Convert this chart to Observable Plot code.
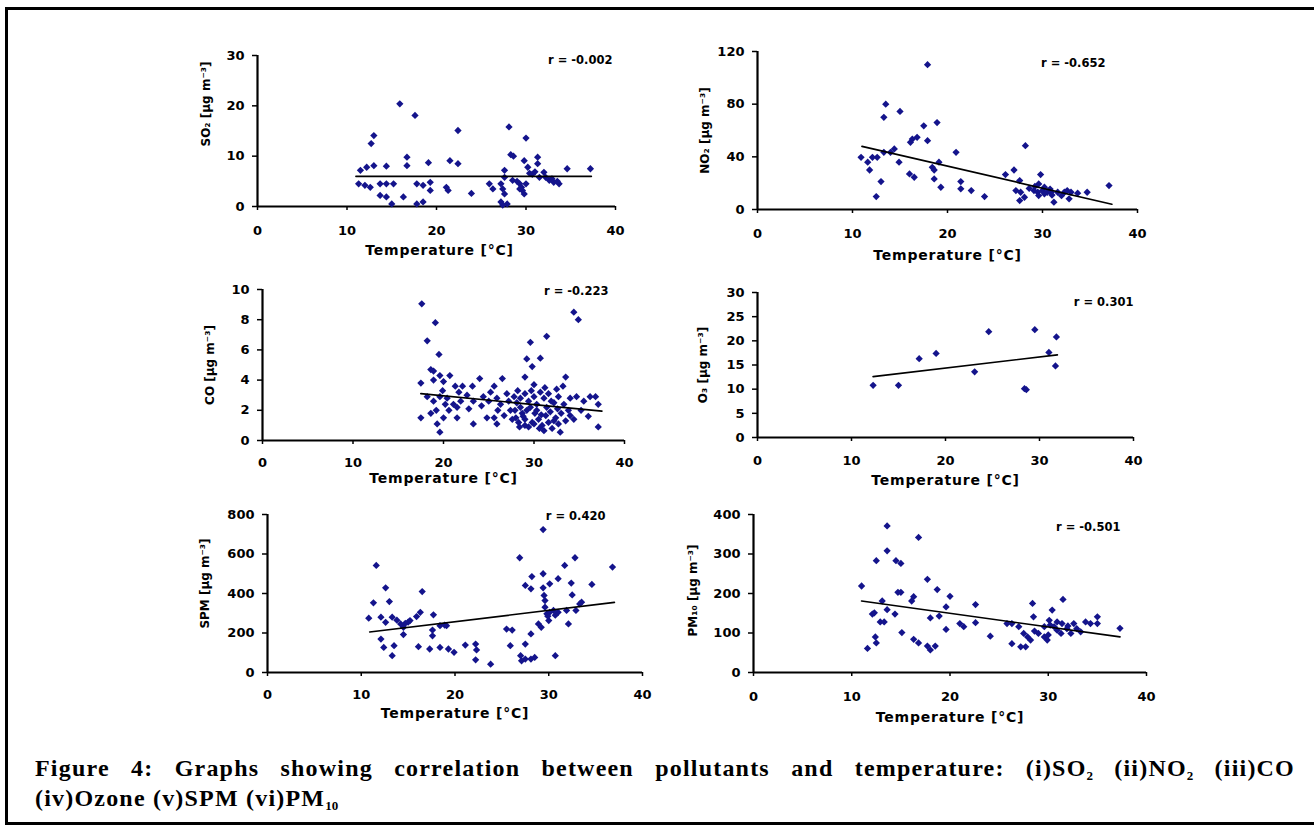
<!DOCTYPE html>
<html>
<head>
<meta charset="utf-8">
<script src="https://cdn.jsdelivr.net/npm/d3@7"></script>
<script src="https://cdn.jsdelivr.net/npm/@observablehq/plot@0.6"></script>
<style>
html,body{margin:0;padding:0;background:#fff;}
body{width:1314px;height:828px;overflow:hidden;position:relative;}
#frame{position:absolute;left:5px;top:7px;width:1340px;height:818px;border:3px solid #000;box-sizing:border-box;}
.panel{position:absolute;}
.cap{position:absolute;left:35px;width:1260px;font-family:"Liberation Serif","Times New Roman",serif;font-weight:bold;font-size:24px;letter-spacing:1.2px;line-height:30px;color:#000;white-space:nowrap;}
#cap1{top:753px;text-align:justify;text-align-last:justify;}
#cap2{top:783px;}
.cap sub{font-size:13px;vertical-align:-4px;line-height:0;letter-spacing:0;}
</style>
</head>
<body>
<div id="frame"></div>
<div id="panels"></div>
<div class="cap" id="cap1">Figure 4: Graphs showing correlation between pollutants and temperature: (i)SO<sub>2</sub> (ii)NO<sub>2</sub> (iii)CO</div>
<div class="cap" id="cap2">(iv)Ozone (v)SPM (vi)PM<sub>10</sub></div>
<script>
// ---------- data ----------
const xTitle = "Temperature [°C]";
const xTicks = [0, 10, 20, 30, 40];
const yLabels = ["SO₂ [µg m⁻³]", "NO₂ [µg m⁻³]", "CO [µg m⁻³]", "O₃ [µg m⁻³]", "SPM [µg m⁻³]", "PM₁₀ [µg m⁻³]"];
const rLabels = ["r = -0.002", "r = -0.652", "r = -0.223", "r = 0.301", "r = 0.420", "r = -0.501"];
const yTicksSO2 = [0, 10, 20, 30];
const yTicksNO2 = [0, 40, 80, 120];
const yTicksCO = [0, 2, 4, 6, 8, 10];
const yTicksO3 = [0, 5, 10, 15, 20, 25, 30];
const yTicksSPM = [0, 200, 400, 600, 800];
const yTicksPM10 = [0, 100, 200, 300, 400];

const so2Points = [[15.9,20.4],[17.6,18.1],[13.0,14.1],[12.7,12.5],[22.4,15.1],[28.1,15.8],[30.0,13.6],[28.3,10.3],[28.6,10.0],[16.7,9.8],[16.7,8.1],[19.1,8.7],[21.5,9.1],[22.4,8.5],[14.4,8.0],[11.5,7.2],[12.2,7.8],[13.0,8.1],[29.8,9.1],[31.3,9.8],[31.3,8.5],[30.2,7.8],[30.4,6.6],[30.7,6.4],[27.6,7.2],[27.6,5.8],[34.6,7.5],[37.2,7.5],[11.3,4.5],[12.0,4.2],[12.6,3.8],[13.7,4.5],[14.4,4.5],[15.2,4.5],[17.8,4.5],[18.5,4.2],[19.3,4.8],[19.3,3.2],[21.1,3.8],[21.3,3.2],[13.7,2.2],[14.4,1.9],[16.3,1.9],[15.0,0.5],[17.8,0.5],[18.5,0.9],[23.9,2.6],[25.9,4.5],[26.3,3.5],[27.2,4.5],[27.4,3.5],[27.6,2.5],[27.2,0.9],[27.9,0.5],[27.4,0.3],[29.3,4.5],[29.5,3.8],[29.6,3.2],[29.8,2.5],[29.3,3.5],[30.0,4.5],[32.2,5.8],[32.6,5.2],[33.1,4.8],[33.7,4.5],[32.9,5.5],[31.5,5.8],[28.5,5.2],[32.0,6.8],[31.0,6.9],[29.0,5.0],[33.5,5.0]];
const so2Trend = [[11.0,6.0],[37.3,6.0]];

const no2Points = [[17.9,110],[13.5,80],[13.3,70],[15.0,74.5],[18.9,66],[17.5,63.6],[16.8,54.8],[16.3,53.5],[16.1,51],[17.9,52.3],[28.2,48.5],[20.9,43.4],[14.4,46],[14.0,43.4],[13.3,43.4],[12.6,39.6],[12.1,39.6],[10.9,39.6],[11.6,35.9],[11.8,30],[14.9,35.9],[19.1,35.9],[18.4,32],[18.6,30],[16.0,27],[16.5,24.5],[18.6,23.2],[13.0,21.2],[12.5,9.8],[19.3,16.9],[21.4,21.2],[21.4,15.7],[22.5,14.4],[23.9,9.8],[26.1,26.5],[27.0,30],[27.6,22],[27.2,14.4],[27.7,13.1],[27.6,6.8],[28.1,9.3],[29.8,26.5],[29.6,19.4],[29.1,14.4],[29.5,13.1],[30.0,14.4],[30.2,11.9],[30.5,13.1],[30.9,13.1],[31.2,5.6],[31.6,13.1],[32.3,13.1],[32.6,14.4],[33.0,13.1],[32.8,8.1],[33.7,12.4],[34.7,13.1],[30.2,16.9],[29.6,10.6],[37.0,18.2],[31.0,11],[32.0,10.5],[29.2,17.5],[28.6,16],[30.8,15.5]];
const no2Trend = [[11.0,48],[37.3,4]];

const coPoints = [[17.6,9.05],[34.4,8.5],[34.9,8.0],[19.1,7.8],[18.2,6.6],[31.4,6.9],[29.6,6.5],[19.5,5.7],[29.2,5.4],[30.7,5.45],[29.8,4.9],[18.6,4.7],[18.9,4.6],[19.6,4.3],[20.7,4.3],[24.0,4.1],[26.5,4.1],[29.0,4.2],[33.5,4.2],[17.5,3.8],[18.9,4.0],[20.0,3.9],[21.3,3.6],[22.1,3.6],[23.2,3.6],[25.6,3.6],[30.0,3.7],[33.2,3.6],[18.2,2.9],[18.9,2.6],[19.6,2.9],[20.4,2.8],[21.1,2.4],[21.5,2.2],[21.9,2.6],[22.6,3.0],[23.3,2.6],[24.4,2.9],[25.2,3.2],[25.9,2.8],[26.3,2.4],[27.0,3.1],[27.8,2.9],[28.1,2.5],[28.5,2.8],[29.0,3.1],[29.4,2.6],[30.0,2.9],[30.3,2.4],[30.7,3.2],[31.1,2.8],[31.6,3.1],[32.2,2.5],[32.7,2.9],[33.3,2.4],[34.0,2.8],[34.7,2.9],[35.5,2.6],[36.2,2.9],[36.8,2.9],[37.1,2.4],[17.5,1.5],[18.6,1.8],[19.3,1.1],[19.6,0.55],[20.0,1.5],[20.6,2.0],[21.5,1.5],[23.3,1.1],[24.8,1.5],[25.6,1.5],[25.9,1.1],[26.7,1.65],[27.4,2.0],[28.0,1.5],[28.3,1.2],[28.7,1.8],[29.0,1.4],[29.4,0.9],[29.8,1.2],[30.1,1.8],[30.5,1.4],[30.9,1.0],[31.3,1.65],[31.6,1.2],[32.0,0.8],[32.4,1.5],[32.7,1.1],[32.9,0.55],[33.5,1.3],[34.0,1.65],[34.4,1.4],[37.1,0.9],[28.5,2.2],[29.6,2.2],[31.4,2.2],[32.6,2.1],[27.9,2.0],[30.0,1.1],[31.1,0.65],[29.0,1.0],[27.6,1.4],[28.8,1.6],[29.2,2.0],[30.3,2.0],[30.8,1.7],[31.8,1.9],[32.2,1.3],[28.4,0.9],[30.6,0.8],[31.9,2.6],[29.7,3.3],[28.2,3.3],[26.0,2.0],[24.2,2.3],[22.8,2.1],[19.9,3.3],[21.7,3.2],[33.8,2.0],[35.2,2.0],[36.0,1.6],[19.2,2.0],[20.2,2.4],[25.0,2.6],[27.2,2.6],[31.2,3.5],[32.5,3.4],[33.0,1.8]];
const coTrend = [[17.5,3.1],[37.5,1.95]];

const o3Points = [[12.3,10.8],[15.0,10.8],[17.2,16.3],[19.0,17.4],[23.1,13.6],[24.6,21.9],[28.4,10.1],[28.6,9.9],[29.5,22.3],[31.0,17.6],[31.7,14.8],[31.8,20.8]];
const o3Trend = [[12.3,12.6],[31.9,17.1]];

const spmPoints = [[29.4,724],[11.6,542],[26.9,581],[32.8,581],[31.7,542],[36.8,534],[12.6,429],[16.5,410],[11.3,353],[13.0,359],[28.2,486],[29.4,500],[31.0,475],[30.1,449],[27.5,441],[28.1,424],[29.4,429],[29.5,390],[29.6,364],[32.4,453],[32.5,393],[34.6,446],[33.5,356],[10.8,275],[12.1,280],[13.3,280],[12.6,254],[14.2,246],[14.7,249],[14.5,229],[15.2,263],[15.9,283],[16.3,305],[17.7,292],[17.6,215],[17.6,186],[19.1,237],[18.4,237],[12.1,169],[14.5,192],[12.4,127],[13.5,136],[16.1,131],[17.3,119],[18.4,127],[19.3,119],[19.9,102],[21.1,139],[22.2,144],[22.3,114],[22.2,64],[23.8,42],[13.3,85],[25.5,220],[26.1,215],[25.9,136],[27.5,144],[28.1,195],[28.9,246],[29.2,229],[29.8,297],[30.1,305],[30.5,314],[31.0,305],[31.9,314],[32.9,314],[32.1,246],[30.0,263],[27.0,85],[27.5,68],[28.1,68],[28.5,76],[27.1,59],[30.7,85],[29.6,331],[33.3,347],[15.0,255],[18.9,240],[13.8,265],[29.9,285],[30.7,290]];
const spmTrend = [[10.9,205],[37.0,355]];

const pm10Points = [[13.6,371],[16.8,342],[13.6,308],[12.5,283],[14.5,283],[15.0,276],[17.7,236],[11.0,219],[18.7,210],[14.7,203],[15.0,203],[16.3,192],[16.1,181],[20.0,193],[13.1,181],[22.6,172],[13.6,159],[12.1,148],[12.3,151],[14.4,148],[31.5,185],[19.6,166],[28.4,175],[18.9,143],[18.0,138],[30.4,158],[12.9,128],[13.3,128],[21.0,124],[21.4,116],[22.6,126],[19.6,109],[15.1,101],[12.4,90],[12.5,75],[11.6,61],[16.3,84],[16.8,75],[17.7,67],[18.0,57],[18.5,67],[24.1,92],[25.8,124],[26.3,124],[26.3,73],[27.0,116],[27.5,99],[27.2,65],[27.7,65],[28.5,141],[27.9,90],[28.2,82],[29.0,99],[29.6,90],[29.9,82],[30.1,132],[30.2,120],[30.6,116],[30.9,107],[31.3,99],[31.4,124],[31.9,111],[32.3,99],[32.6,124],[32.9,111],[33.3,103],[33.8,128],[34.3,124],[35.0,141],[35.0,124],[29.6,116],[30.9,128],[37.3,112],[28.6,105],[30.0,95],[32.0,118]];
const pm10Trend = [[11.0,181],[37.3,90]];

// ---------- layout ----------
const panels = [
  {pts: so2Points,  trend: so2Trend,  yMax: 30,  yTicks: yTicksSO2,  k: 0, x0: 257, x40: 615,  y0: 206, yTop: 55,  lx: -51, ly: -27, rdx: -3,  rdy: 5,  tdx: 3, tdy: 44, tick: 24},
  {pts: no2Points,  trend: no2Trend,  yMax: 120, yTicks: yTicksNO2,  k: 1, x0: 757, x40: 1137, y0: 209, yTop: 51,  lx: -52, ly: 0,   rdx: -32, rdy: 12, tdx: 0, tdy: 46, tick: 24},
  {pts: coPoints,   trend: coTrend,   yMax: 10,  yTicks: yTicksCO,   k: 2, x0: 262, x40: 624,  y0: 440, yTop: 289, lx: -52, ly: 0,   rdx: -16, rdy: 2,  tdx: 0, tdy: 38, tick: 22},
  {pts: o3Points,   trend: o3Trend,   yMax: 30,  yTicks: yTicksO3,   k: 3, x0: 757, x40: 1133, y0: 437, yTop: 292, lx: -54, ly: 0,   rdx: 0,   rdy: 10, tdx: 0, tdy: 43, tick: 23},
  {pts: spmPoints,  trend: spmTrend,  yMax: 800, yTicks: yTicksSPM,  k: 4, x0: 267, x40: 642,  y0: 672, yTop: 514, lx: -62, ly: -10, rdx: -37, rdy: 2,  tdx: 0, tdy: 41, tick: 22},
  {pts: pm10Points, trend: pm10Trend, yMax: 400, yTicks: yTicksPM10, k: 5, x0: 753, x40: 1146, y0: 672, yTop: 514, lx: -60, ly: -3,  rdx: -26, rdy: 13, tdx: 0, tdy: 45, tick: 24}
];

const diamond = {
  draw(context, size) {
    const r = Math.sqrt(size / 2);
    context.moveTo(0, -r); context.lineTo(r, 0); context.lineTo(0, r); context.lineTo(-r, 0); context.closePath();
  }
};

const host = document.getElementById("panels");
const mL = 75, mR = 30, mT = 20, mB = 60;
for (const p of panels) {
  const w = p.x40 - p.x0, h = p.y0 - p.yTop;
  const data = p.pts.map(([x, y]) => ({x, y}));
  const trend = p.trend.map(([x, y]) => ({x, y}));
  const svg = Plot.plot({
    width: mL + w + mR, height: mT + h + mB,
    marginLeft: mL, marginRight: mR, marginTop: mT, marginBottom: mB,
    style: {fontFamily: "'DejaVu Sans', sans-serif", fontSize: "13px", fontWeight: "bold", color: "#000", background: "transparent", overflow: "visible"},
    x: {domain: [0, 40]},
    y: {domain: [0, p.yMax]},
    marks: [
      Plot.axisX({ticks: xTicks, tickSize: 4, tickPadding: p.tick - 9, tickFormat: d => String(d), label: null, strokeWidth: 1.5}),
      Plot.axisY({ticks: p.yTicks, tickSize: 5, tickPadding: 8, tickFormat: d => String(d), label: null, strokeWidth: 1.5}),
      Plot.ruleX([0], {stroke: "#000", strokeWidth: 2.2}),
      Plot.ruleY([0], {stroke: "#000", strokeWidth: 2.2}),
      Plot.dot(data, {x: "x", y: "y", symbol: diamond, r: 2.9, fill: "#14148c", stroke: "none"}),
      Plot.line(trend, {x: "x", y: "y", stroke: "#000", strokeWidth: 1.7}),
      Plot.text([rLabels[p.k]], {text: d => d, frameAnchor: "top-right", textAnchor: "end", lineAnchor: "middle", dx: p.rdx, dy: p.rdy, fontSize: 11.5, fontWeight: "bold", fill: "#000"}),
      Plot.text([xTitle], {text: d => d, frameAnchor: "bottom", textAnchor: "middle", lineAnchor: "middle", dx: p.tdx, dy: p.tdy, fontSize: 14, fontWeight: "bold", fill: "#000"}),
      Plot.text([yLabels[p.k]], {text: d => d, frameAnchor: "left", textAnchor: "middle", lineAnchor: "middle", rotate: -90, dx: p.lx, dy: p.ly, fontSize: 12, fontWeight: "bold", fill: "#000"})
    ]
  });
  svg.querySelectorAll("text").forEach(t => { if (t.textContent === xTitle) t.style.letterSpacing = "0.8px"; });
  const div = document.createElement("div");
  div.className = "panel";
  div.style.left = (p.x0 - mL) + "px";
  div.style.top = (p.yTop - mT) + "px";
  div.appendChild(svg);
  host.appendChild(div);
}
</script>
</body>
</html>
